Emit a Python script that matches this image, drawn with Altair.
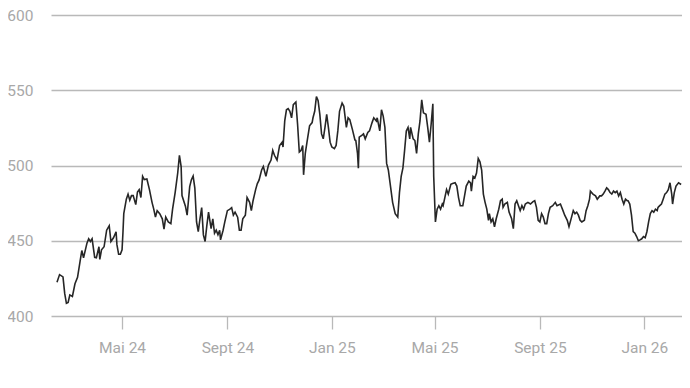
import altair as alt
import pandas as pd

# Trading days, counted in days since 2024-02-01
days = [
    14, 17, 21, 23, 25, 27, 29, 32, 35, 38,
    41, 43, 45, 49, 51, 53, 55, 58, 60, 63,
    64, 66, 69, 72, 75, 77, 80, 83, 84, 86,
    88, 90, 91, 92, 95, 97, 99, 101, 103, 106,
    108, 110, 112, 114, 116, 119, 122, 125, 127, 129,
    131, 134, 137, 139, 141, 144, 147, 149, 152, 155,
    157, 159, 160, 164, 166, 169, 171, 173, 175, 177,
    179, 181, 183, 185, 187, 189, 191, 194, 196, 198,
    200, 202, 204, 205, 208, 210, 213, 216, 218, 220,
    222, 225, 227, 229, 231, 234, 236, 239, 241, 243,
    246, 248, 250, 253, 255, 258, 261, 264, 266, 268,
    271, 274, 277, 278, 280, 282, 284, 286, 288, 290,
    293, 295, 297, 299, 301, 302, 304, 306, 309, 312,
    313, 315, 317, 319, 321, 323, 325, 327, 329, 331,
    333, 335, 338, 340, 342, 344, 347, 349, 352, 354,
    356, 359, 362, 363, 365, 366, 367, 370, 372, 374,
    377, 379, 382, 384, 387, 388, 391, 393, 395, 397,
    399, 401, 403, 406, 409, 412, 414, 416, 418, 420,
    422, 424, 426, 427, 430, 432, 434, 436, 438, 440,
    442, 445, 447, 449, 451, 453, 454, 456, 458, 460,
    462, 464, 465, 467, 469, 471, 474, 476, 479, 481,
    483, 485, 488, 490, 492, 495, 497, 498, 500, 502,
    504, 506, 508, 510, 512, 514, 516, 518, 519, 521,
    523, 525, 527, 530, 532, 534, 535, 537, 540, 542,
    545, 547, 549, 551, 553, 555, 557, 559, 561, 564,
    567, 570, 572, 574, 576, 578, 580, 582, 584, 586,
    588, 590, 593, 596, 598, 602, 605, 607, 610, 612,
    615, 617, 619, 621, 623, 625, 627, 630, 632, 634,
    636, 637, 640, 643, 645, 648, 650, 652, 654, 656,
    658, 660, 662, 664, 666, 668, 670, 672, 674, 676,
    678, 680, 681, 683, 685, 687, 689, 691, 693, 695,
    697, 699, 701, 703, 705, 707, 709, 711, 713, 715,
    716, 718, 720, 722, 724, 726, 728, 730, 732, 733,
    735, 737, 740, 743,
]

prices = [
    422.5, 427.5, 426, 415, 408.4, 409, 414, 413, 421.4, 425.7,
    436.5, 443.5, 438.7, 448.4, 451.3, 449.5, 451.3, 439, 438.7, 446,
    437.6, 444, 446, 457, 460, 449.5, 452, 456, 447.4, 441,
    441, 444, 455, 468, 477.6, 481, 477, 480, 480, 474,
    482.4, 484, 478.7, 492.8, 490.6, 491, 484, 475.5, 471, 465.7,
    470, 468, 464.6, 457.7, 465.7, 462.5, 461.4, 471, 482, 495,
    506.8, 499.3, 480, 473, 467, 486, 490.6, 493, 485, 462.5,
    456, 464.6, 472, 453.9, 449.5, 460, 469, 458, 464.6, 455,
    457, 454, 457, 450.6, 457, 462.5, 470, 471, 472, 467,
    469, 465.7, 457, 457, 464.6, 467, 478.7, 475.5, 470, 476.6,
    484, 488, 490.3, 497, 499.3, 492.8, 500.3, 503.6, 510, 506.8,
    503.6, 513.3, 515.5, 512.3, 529.6, 537, 537.8, 536, 531.7, 540.4,
    542.1, 527.4, 509, 510, 513.3, 493.8, 508, 515.5, 526.4, 528.5,
    531.7, 536, 545.8, 543, 534, 521, 517.7, 525.3, 534, 525.3,
    515.5, 512.3, 511.2, 513.3, 523, 536, 541.5, 539.3, 525.3, 531.7,
    530.5, 524, 517, 516.6, 508, 498.2, 518.8, 520, 521, 517.7,
    522, 523, 528.5, 531.7, 529.6, 531.7, 523, 537, 532.8, 525.3,
    501.4, 497, 488.5, 475.5, 468, 465.7, 482, 492.8, 498.2, 510,
    523, 525.3, 517.7, 525.3, 517.7, 516.6, 508, 521, 529.6, 543.6,
    535, 534, 525.3, 515.5, 527.4, 541, 492.8, 462.5, 471, 473.3,
    471, 474.4, 473.3, 478.7, 484, 481, 487.5, 488, 488.5, 486.3,
    478.7, 473.3, 473.3, 479.8, 486.3, 489.6, 488.5, 483, 492.8, 491.7,
    495, 504.7, 502.5, 497, 481, 475.5, 471, 463.6, 468, 462.5,
    464.6, 459.3, 464.6, 471, 476.6, 477.6, 472.2, 474.4, 475.5, 469,
    464.6, 458, 474.4, 476.6, 473.3, 470, 473.3, 471, 474.4, 475.5,
    474.4, 476, 476.6, 472.2, 463.6, 462.5, 468, 465.7, 461.4, 461.4,
    468, 472.2, 473.3, 475.5, 473.3, 474.4, 470, 467, 463.6, 459.3,
    465.7, 470, 468, 469, 467, 463.6, 462.5, 463.6, 470, 473.3,
    477.6, 483, 481, 479.8, 477.6, 479.8, 479.8, 481, 483, 485.2,
    484, 482, 481, 483, 482, 483, 479.8, 482, 477.6, 474.4,
    477.6, 476.6, 476.6, 474.4, 467, 456, 455, 452.8, 450, 450.6,
    451.3, 452.8, 452, 456, 462.5, 468, 470, 469, 471, 470,
    472.2, 473.3, 474.4, 477.6, 481, 482, 484, 488.5, 481, 474.4,
    482, 486.3, 488.5, 487.4,
]

y_ticks = [400, 450, 500, 550, 600]
x_ticks = [
    alt.DateTime(year=2024, month=5, date=1),
    alt.DateTime(year=2024, month=9, date=1),
    alt.DateTime(year=2025, month=1, date=1),
    alt.DateTime(year=2025, month=5, date=1),
    alt.DateTime(year=2025, month=9, date=1),
    alt.DateTime(year=2026, month=1, date=1),
]
x_domain = [
    alt.DateTime(year=2024, month=2, date=8),
    alt.DateTime(year=2026, month=2, date=14),
]

base = pd.Timestamp("2024-02-01")
df = pd.DataFrame({
    "date": [base + pd.Timedelta(days=d) for d in days],
    "price": prices,
})

month_expr = ("['Jan','Feb','März','Apr','Mai','Juni','Juli','Aug','Sept','Okt','Nov','Dez']"
              "[month(datum.value)] + ' ' + timeFormat(datum.value, '%y')")

FONT = "Roboto"
LABEL = "#a8a8a8"
GRID = "#b9b9b9"

chart = alt.Chart(df).mark_line(
    color="#262626", strokeWidth=1.6, interpolate="linear"
).encode(
    x=alt.X(
        "date:T",
        scale=alt.Scale(domain=x_domain),
        axis=alt.Axis(
            title=None, values=x_ticks, labelExpr=month_expr,
            grid=False, domain=False, ticks=True, tickSize=13,
            tickColor=GRID, tickWidth=1.3,
            labelFont=FONT, labelFontSize=15.5, labelColor=LABEL,
            labelPadding=11, labelFlush=False,
        ),
    ),
    y=alt.Y(
        "price:Q",
        scale=alt.Scale(domain=[400, 600], nice=False, zero=False),
        axis=alt.Axis(
            title=None, values=y_ticks, grid=True, gridColor=GRID,
            gridWidth=1.3, domain=False, ticks=False, tickSize=0,
            labelFont=FONT, labelFontSize=15.5, labelColor=LABEL,
            labelPadding=18, labelAlign="right",
        ),
    ),
).properties(
    width=631,
    height=301,
    autosize=alt.AutoSizeParams(type="none"),
    padding={"left": 43, "top": 7, "right": 0, "bottom": 50},
).configure_view(stroke=None)

chart.save("out.html", embed_options={"renderer": "svg", "actions": False})
